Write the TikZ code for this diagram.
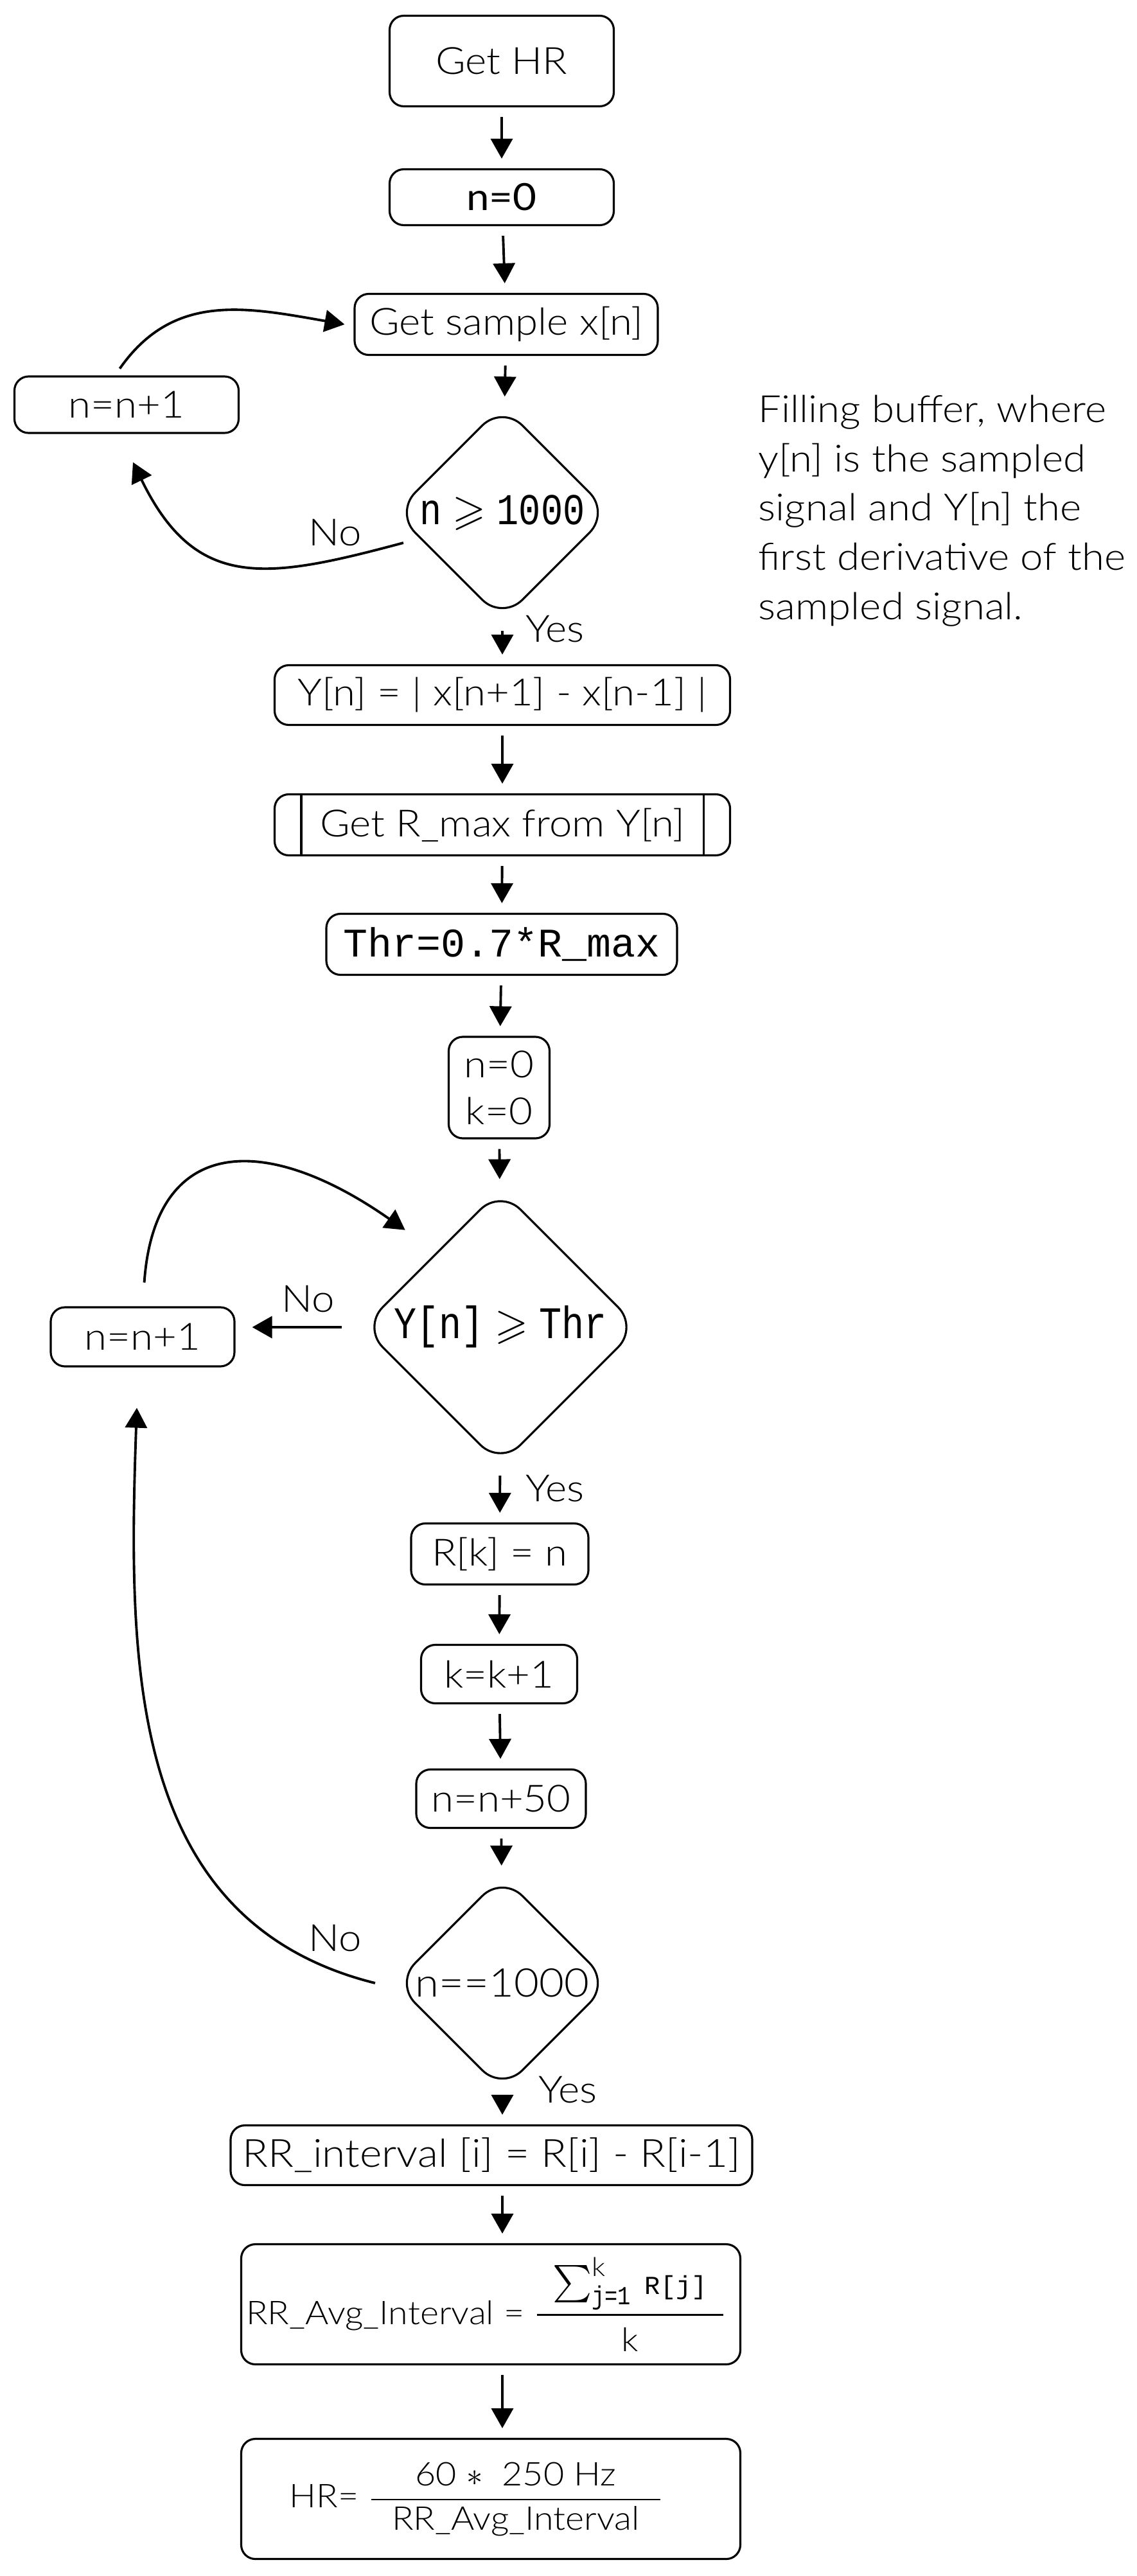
\documentclass[tikz,border=0pt]{standalone}
\usepackage{amsmath,amssymb}
\usepackage{fontspec}
\setmainfont{Lato Light}[FakeStretch=1.09]
\newfontfamily\latoreg{Lato}[FakeStretch=1.09]
\setmonofont{Liberation Mono}
\newfontfamily\monocond{Liberation Mono}[FakeStretch=0.83]
\newcommand{\geqmono}{\hspace{0.17cm}{\fontsize{19}{21}\selectfont$\geqslant$}\hspace{0.17cm}}
\usetikzlibrary{shapes.geometric}
\usetikzlibrary{arrows.meta}

\tikzset{
 box/.style={draw, line width=0.9pt, rounded corners=0.22cm, align=center, inner sep=2pt},
 decision/.style={diamond, draw, line width=0.9pt, rounded corners=0.44cm, inner sep=0pt, minimum width=#1, minimum height=#1},
 flow/.style={-{Triangle[length=0.31cm,width=0.34cm]}, line width=1.1pt, shorten <=0.15cm, shorten >=0.15cm},
 back/.style={-{Triangle[length=0.31cm,width=0.34cm]}, line width=1.1pt},
 lbl/.style={inner sep=0pt}
}

\begin{document}
\fontsize{16.6}{21.8}\selectfont
\begin{tikzpicture}
\path[use as bounding box, fill=white] (0,0) rectangle (17.7,-40.1);
% buffer filling
\node[box, minimum width=3.49cm, minimum height=1.41cm] (gethr) at (7.81,-0.95) {Get HR};
\node[box, minimum width=3.49cm, minimum height=0.87cm, font=\latoreg] (nzero) at (7.81,-3.07) {n=0};
\node[box, minimum width=4.72cm, minimum height=0.95cm] (sample) at (7.88,-5.05) {Get sample x[n]};
\node[decision=3.35cm] (full) at (7.82,-7.98) {\makebox[0pt]{\monocond\fontsize{19.5}{22}\selectfont n\geqmono 1000}};
\node[box, minimum width=3.49cm, minimum height=0.88cm] (incA) at (1.97,-6.30) {n=n+1};
\node[lbl, anchor=base west, align=left] (note) at (11.80,-9.64) {Filling buffer, where\\y[n] is the sampled\\signal and Y[n] the\\first derivative of the\\sampled signal.};
\node[lbl] (noA) at (5.22,-8.29) {No};
\node[lbl] (yesA) at (8.64,-9.79) {Yes};
% derivative and threshold
\node[box, minimum width=7.09cm, minimum height=0.93cm] (deriv) at (7.82,-10.82) {Y[n] = | x[n+1] - x[n-1] |};
\node[box, minimum width=7.09cm, minimum height=0.95cm] (rmax) at (7.82,-12.84) {Get R\_max from Y[n]};
\draw[line width=0.9pt] ([xshift=0.43cm]rmax.north west) -- ([xshift=0.43cm]rmax.south west);
\draw[line width=0.9pt] ([xshift=-0.43cm]rmax.north east) -- ([xshift=-0.43cm]rmax.south east);
\node[box, minimum width=5.46cm, minimum height=0.95cm, font=\ttfamily\fontsize{18}{21}\selectfont] (thr) at (7.81,-14.70) {Thr=0.7*R\_max};
\node[box, minimum width=1.57cm, minimum height=1.58cm, font=\fontsize{16.6}{20.8}\selectfont] (init) at (7.77,-16.93) {n=0\\k=0};
% peak search
\node[decision=4.3cm] (peakq) at (7.79,-20.66) {\makebox[0pt]{\raisebox{0.15cm}{\monocond\fontsize{20}{22}\selectfont Y[n]\geqmono Thr}}};
\node[box, minimum width=2.86cm, minimum height=0.92cm] (incB) at (2.22,-20.81) {n=n+1};
\node[lbl] (noB) at (4.8,-20.22) {No};
\node[lbl] (yesB) at (8.64,-23.17) {Yes};
\node[box, minimum width=2.76cm, minimum height=0.95cm] (store) at (7.78,-24.19) {R[k] = n};
\node[box, minimum width=2.43cm, minimum height=0.91cm] (kinc) at (7.77,-26.06) {k=k+1};
\node[box, minimum width=2.64cm, minimum height=0.91cm] (nstep) at (7.80,-28.0) {n=n+50};
\node[decision=3.35cm] (done) at (7.82,-30.87) {\makebox[0pt]{\fontsize{17.5}{20}\selectfont n==1000}};
\node[lbl] (noC) at (5.22,-30.17) {No};
\node[lbl] (yesC) at (8.84,-32.53) {Yes};
% heart rate
\node[box, minimum width=8.12cm, minimum height=0.93cm, font=\fontsize{17.2}{21}\selectfont] (rrint) at (7.65,-33.55) {RR\_interval [i] = R[i] - R[i-1]};
\node[box, minimum width=7.77cm, minimum height=1.87cm, font=\fontsize{14.5}{17}\selectfont] (rravg) at (7.64,-35.87) {RR\_Avg\_Interval = {\fontsize{16.5}{19}\selectfont$\dfrac{\makebox[2.9cm]{$\textstyle\sum_{\text{\monocond j=1}}^{\text{k}}\,\text{\ttfamily\fontsize{11.5}{13}\selectfont R[j]}$}}{\text{\fontsize{14.5}{17}\selectfont k}}$}\hspace*{0.15cm}};
\node[box, minimum width=7.77cm, minimum height=1.87cm, font=\fontsize{14.5}{17}\selectfont] (hr) at (7.64,-38.90) {HR= $\dfrac{\makebox[4.5cm]{60 $\ast$\ \ 250 Hz}}{\text{RR\_Avg\_Interval}}$\hspace*{0.45cm}};
% flow arrows
\foreach \a/\b in {gethr/nzero, nzero/sample, sample/full, full/deriv, deriv/rmax, rmax/thr, thr/init, init/peakq, peakq/store, store/kinc, kinc/nstep, nstep/done}
 \draw[flow] (\a) -- (\b);
\draw[flow] (done) -- (rrint.north -| done);
\draw[flow] (rrint.south -| done) -- (rravg.north -| done);
\draw[flow] (rravg.south -| done) -- (hr.north -| done);
% loops back
\draw[back, shorten <=0.13cm] ([xshift=-0.18cm]incA.north) to[out=55, in=170, looseness=1.1] ([xshift=-0.14cm]sample.west);
\draw[back] ([shift={(0.15,-0.47)}]full.west) to[out=195, in=-64, looseness=1.3] ([shift={(0.1,-0.44)}]incA.south);
\draw[flow, shorten <=0.3cm, shorten >=0.26cm] (peakq.west) -- (peakq.west -| incB.east);
\draw[back, shorten <=0.37cm] (incB.north) to[out=86, in=145, looseness=1.6] ([shift={(-0.4,0.43)}]peakq.north west);
\draw[back] ([xshift=-0.29cm]done.west) to[out=166, in=-92, looseness=1.05] ([shift={(-0.09,-0.63)}]incB.south);
\end{tikzpicture}
\end{document}
